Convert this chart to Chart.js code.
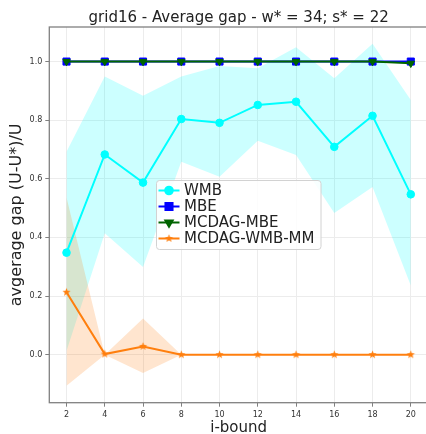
<!DOCTYPE html>
<html>
<head>
<meta charset="utf-8">
<script src="https://cdn.jsdelivr.net/npm/chart.js@4/dist/chart.umd.min.js"></script>
<style>
  html, body { margin: 0; padding: 0; background: #fff; overflow: hidden; }
  #wrap { width: 440px; height: 434px; }
</style>
</head>
<body>
<div id="wrap"><canvas id="chart" width="440" height="434"></canvas></div>
<script>
// data
var iBound = [2, 4, 6, 8, 10, 12, 14, 16, 18, 20];
var wmb = [0.348, 0.683, 0.587, 0.804, 0.791, 0.852, 0.863, 0.709, 0.815, 0.547];
var wmbUpper = [0.692, 0.949, 0.883, 0.949, 0.985, 0.977, 1.049, 0.943, 1.061, 0.869];
var wmbLower = [0.012, 0.414, 0.299, 0.658, 0.607, 0.730, 0.681, 0.483, 0.572, 0.236];
var mbe = [1, 1, 1, 1, 1, 1, 1, 1, 1, 1];
var mcdagMbe = [1, 1, 1, 1, 1, 1, 1, 1, 1, 0.994];
var mcdagWmbMm = [0.213, 0.002, 0.028, 0, 0, 0, 0, 0, 0, 0];
var mmUpper = [0.536, 0, 0.123, 0, 0, 0, 0, 0, 0, 0];
var mmLower = [-0.106, 0, -0.063, 0, 0, 0, 0, 0, 0, 0];
var xTicks = [2, 4, 6, 8, 10, 12, 14, 16, 18, 20];
var yTicks = [0, 0.2, 0.4, 0.6, 0.8, 1.0];

var titleText = "grid16 - Average gap - w* = 34; s* = 22";

function pts(ys) {
	return ys.map(function (y, i) { return { x: iBound[i], y: y }; });
}

// filled star marker like matplotlib's '*'
function makeStar(color, r) {
	var c = document.createElement("canvas");
	var s = Math.ceil(r * 2 + 2);
	c.width = s; c.height = s;
	var g = c.getContext("2d");
	g.beginPath();
	for (var k = 0; k < 10; k++) {
		var rr = k % 2 === 0 ? r : r * 0.42;
		var a = -Math.PI / 2 + k * Math.PI / 5;
		var px = s / 2 + rr * Math.cos(a), py = s / 2 + rr * Math.sin(a);
		if (k === 0) g.moveTo(px, py); else g.lineTo(px, py);
	}
	g.closePath();
	g.fillStyle = color;
	g.fill();
	return c;
}
var starImg = makeStar("#ff7f0e", 4.3);

var lineDs = function (label, data, color, style, radius, order, extra) {
	var ds = {
		label: label,
		data: pts(data),
		borderColor: color,
		backgroundColor: color,
		borderWidth: 2,
		pointStyle: style,
		pointRadius: radius,
		pointBorderWidth: 1,
		pointBorderColor: color,
		pointBackgroundColor: color,
		fill: false,
		tension: 0,
		order: order,
		isMain: true
	};
	for (var k in extra) ds[k] = extra[k];
	return ds;
};

var datasets = [
	{ data: pts(wmbUpper), borderWidth: 0, pointRadius: 0, fill: 1, backgroundColor: "rgba(0,255,255,0.2)", order: 10 },
	{ data: pts(wmbLower), borderWidth: 0, pointRadius: 0, fill: false, order: 10 },
	{ data: pts(mmUpper), borderWidth: 0, pointRadius: 0, fill: 3, backgroundColor: "rgba(255,127,14,0.2)", order: 9 },
	{ data: pts(mmLower), borderWidth: 0, pointRadius: 0, fill: false, order: 9 },
	lineDs("WMB", wmb, "#00ffff", "circle", 3.8, 4),
	lineDs("MBE", mbe, "#0000ff", "rect", 5, 3),
	lineDs("MCDAG-MBE", mcdagMbe, "#006400", "triangle", 4.2, 2, { pointRotation: 180 }),
	lineDs("MCDAG-WMB-MM", mcdagWmbMm, "#ff7f0e", starImg, 4.3, 1, { pointBorderWidth: 0 })
];

var framePlugin = {
	id: "frame",
	afterDatasetsDraw: function (chart) {
		var a = chart.chartArea, ctx = chart.ctx;
		ctx.save();
		ctx.strokeStyle = "#808080";
		ctx.lineWidth = 1.3;
		ctx.strokeRect(a.left, a.top, a.right - a.left, a.bottom - a.top);
		ctx.restore();
	},
	afterDraw: function (chart) {
		var a = chart.chartArea, ctx = chart.ctx;
		ctx.save();
		// title centred over the plot area
		ctx.fillStyle = "#222";
		ctx.font = "15px 'DejaVu Sans'";
		ctx.textAlign = "center";
		ctx.textBaseline = "alphabetic";
		ctx.fillText(titleText, (a.left + a.right) / 2, 22);

		// legend box inside the plot
		var bx = 156.5, by = 180.5, bw = 164.5, bh = 69;
		ctx.fillStyle = "rgba(255,255,255,0.85)";
		ctx.strokeStyle = "#d2d2d2";
		ctx.lineWidth = 1;
		ctx.beginPath();
		if (ctx.roundRect) ctx.roundRect(bx, by, bw, bh, 3); else ctx.rect(bx, by, bw, bh);
		ctx.fill();
		ctx.stroke();

		var mains = chart.data.datasets.filter(function (d) { return d.isMain; });
		var rowY = [190.5, 206.5, 222.5, 238.5];
		mains.forEach(function (d, i) {
			var y = rowY[i];
			ctx.strokeStyle = d.borderColor;
			ctx.lineWidth = 2;
			ctx.beginPath();
			ctx.moveTo(158.5, y);
			ctx.lineTo(179.5, y);
			ctx.stroke();
			ctx.fillStyle = d.pointBackgroundColor;
			Chart.helpers.drawPoint(ctx, {
				pointStyle: d.pointStyle,
				radius: d.pointRadius,
				rotation: d.pointRotation || 0,
				borderWidth: d.pointBorderWidth
			}, 169, y);
			ctx.fillStyle = "#222";
			ctx.font = "15px 'DejaVu Sans'";
			ctx.textAlign = "left";
			ctx.textBaseline = "middle";
			ctx.fillText(d.label, 184, y + 1);
		});
		ctx.restore();
	}
};

new Chart(document.getElementById("chart"), {
	type: "line",
	data: { datasets: datasets },
	plugins: [framePlugin],
	options: {
		responsive: false,
		devicePixelRatio: 1,
		animation: false,
		layout: { padding: { top: 27, right: 12, left: 0, bottom: 0 } },
		plugins: {
			legend: { display: false },
			title: { display: false },
			tooltip: { enabled: false }
		},
		scales: {
			x: {
				type: "linear",
				min: 1.1,
				max: 20.9,
				afterBuildTicks: function (s) { s.ticks = xTicks.map(function (v) { return { value: v }; }); },
				afterFit: function (s) { s.height = 31.3; },
				grid: { color: "#ececec", lineWidth: 1, tickLength: 4, tickColor: "#808080" },
				border: { display: false },
				ticks: {
					color: "#333",
					font: { family: "DejaVu Sans", size: 8 },
					padding: 3,
					maxRotation: 0,
					callback: function (v) { return String(v); }
				},
				title: {
					display: true,
					text: "i-bound",
					color: "#222",
					font: { family: "DejaVu Sans", size: 15 },
					padding: { top: 0, bottom: -3 }
				}
			},
			y: {
				type: "linear",
				min: -0.164,
				max: 1.118,
				afterBuildTicks: function (s) { s.ticks = yTicks.map(function (v) { return { value: v }; }); },
				afterFit: function (s) { s.width = 49.3; },
				grid: { color: "#ececec", lineWidth: 1, tickLength: 4, tickColor: "#808080" },
				border: { display: false },
				ticks: {
					color: "#333",
					font: { family: "DejaVu Sans", size: 8 },
					padding: 3,
					callback: function (v) { return v.toFixed(1); }
				},
				title: {
					display: true,
					text: "avgerage gap (U-U*)/U",
					color: "#222",
					font: { family: "DejaVu Sans", size: 16 },
					padding: { top: 7, bottom: 0 }
				}
			}
		}
	}
});
</script>
</body>
</html>
